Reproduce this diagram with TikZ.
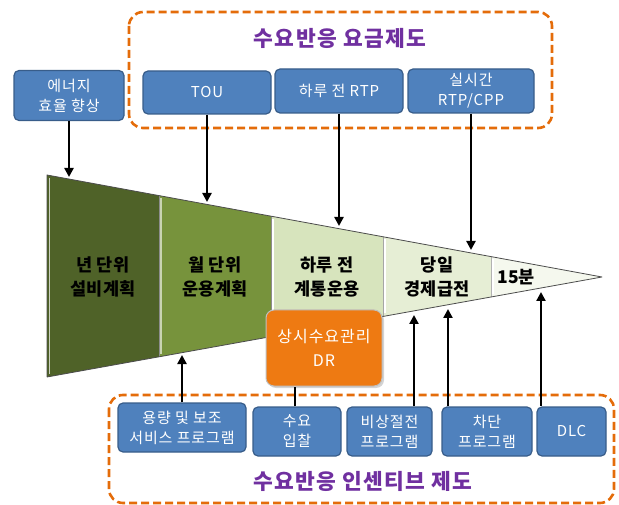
\documentclass[tikz,border=0pt]{standalone}
\usepackage{fontspec}
\setmainfont{Noto Sans CJK KR}
\newfontfamily\spacedfont{Noto Sans CJK KR}[LetterSpace=6]
\usetikzlibrary{arrows.meta,shadows}
\definecolor{boxblue}{HTML}{4F81BD}
\definecolor{boxborder}{HTML}{385D8A}
\definecolor{dashorange}{HTML}{E46C0A}
\definecolor{titlepurple}{HTML}{7030A0}
\definecolor{drorange}{HTML}{EE7A12}
\definecolor{sone}{HTML}{4F6228}
\definecolor{stwo}{HTML}{77933C}
\definecolor{sthree}{HTML}{D7E4BD}
\definecolor{sfour}{HTML}{E6EED5}
\definecolor{sfive}{HTML}{F5F8EE}
\begin{document}
\begin{tikzpicture}[x=1pt,y=-1pt,
  bluebox/.style={draw=boxborder, line width=1.2pt, fill=boxblue, rounded corners=5pt,
    text=white, align=center, inner sep=0pt, font=\spacedfont\fontsize{15}{20}\selectfont},
  stagetext/.style={align=center, font=\fontsize{17.5}{24}\selectfont\bfseries, text=black},
  section/.style={draw=black!70, line width=0.8pt, line join=round},
  arr/.style={line width=2.4pt, -{Triangle[length=9pt,width=9pt]}},
  plainline/.style={line width=2.4pt},
  grouptitle/.style={font=\spacedfont\fontsize{21.5}{24}\selectfont\bfseries, text=titlepurple},
  groupframe/.style={draw=dashorange, line width=2.6pt, dash pattern=on 8pt off 4pt, rounded corners=14pt}]
\useasboundingbox (0,0) rectangle (619,505);

% group frames
\draw[groupframe] (129,12) rectangle (552,128);
\draw[groupframe] (109,395) rectangle (614,503);
\node[grouptitle] (ttop) at (340,38) {수요반응 요금제도};
\node[grouptitle] (tbot) at (363,481) {수요반응 인센티브 제도};

% funnel sections
\fill[sone] (47,175) -- (159,195.6) -- (159,356.8) -- (47,377) -- cycle;
\fill[stwo] (159,195.6) -- (271,216.2) -- (271,336.6) -- (159,356.8) -- cycle;
\fill[sthree] (271,216.2) -- (383,236.7) -- (383,316.5) -- (271,336.6) -- cycle;
\fill[sfour] (383,236.7) -- (491,256.6) -- (491,297) -- (383,316.5) -- cycle;
\fill[sfive] (491,256.6) -- (602,277) -- (491,297) -- cycle;
% bevel highlights
\draw[white!70!sone, line width=1pt] (49,178) -- (49,374);
\draw[white!60!stwo, line width=1.2pt] (161,198.5) -- (161,354);
\draw[white, line width=1.2pt] (273,219) -- (273,334);
\draw[white, line width=1.2pt] (385,239.5) -- (385,313.5);
\draw[white, line width=1.2pt] (493,259.5) -- (493,294.5);
\draw[black!45, line width=0.8pt] (159,195.6) -- (159,356.8);
\draw[black!45, line width=0.8pt] (271,216.2) -- (271,336.6);
\draw[black!35, line width=0.8pt] (383,236.7) -- (383,316.5);
\draw[black!30, line width=0.8pt] (491,256.6) -- (491,297);
\draw[section] (47,377) -- (47,175) -- (602,277) -- (47,377);

\node[stagetext] (s1) at (103,277) {년 단위\\설비계획};
\node[stagetext] (s2) at (215,277) {월 단위\\운용계획};
\node[stagetext] (s3) at (327,277) {하루 전\\계통운용};
\node[stagetext] (s4) at (437,277) {당일\\경제급전};
\node[stagetext, anchor=west] (s5) at (494,277) {15분};

% top boxes
\node[bluebox, minimum width=110pt, minimum height=50pt] (eff) at (69,95.5) {에너지\\효율 향상};
\node[bluebox, minimum width=128pt, minimum height=43pt] (tou) at (207,92.5) {TOU};
\node[bluebox, minimum width=128pt, minimum height=44pt] (rtp) at (339,91) {하루 전 RTP};
\node[bluebox, minimum width=126pt, minimum height=44pt] (cpp) at (471,91) {실시간\\RTP/CPP};

% DR box
\node[draw=black!25, line width=1pt, fill=drorange, rounded corners=8pt, drop shadow={opacity=0.35, shadow xshift=2pt, shadow yshift=-2pt},
  minimum width=116pt, minimum height=76pt, inner sep=0pt, align=center, text=white,
  font=\spacedfont\fontsize{16}{24}\selectfont] (dr) at (324,348) {상시수요관리\\DR};

% bottom boxes
\node[bluebox, minimum width=128pt, minimum height=49pt] (cap) at (182,427.5) {용량 및 보조\\서비스 프로그램};
\node[bluebox, minimum width=88pt, minimum height=49pt] (bid) at (297,431.5) {수요\\입찰};
\node[bluebox, minimum width=85pt, minimum height=49pt] (emg) at (389.5,431.5) {비상절전\\프로그램};
\node[bluebox, minimum width=90pt, minimum height=49pt] (cut) at (487,431.5) {차단\\프로그램};
\node[bluebox, minimum width=69pt, minimum height=49pt] (dlc) at (571.5,431.5) {DLC};

% arrow end points on the funnel
\coordinate (a1) at (69,177);
\coordinate (a2) at (207,202);
\coordinate (a3) at (339,226);
\coordinate (a4) at (471,250);
\coordinate (b1) at (182,355);
\coordinate (b3) at (414,315);
\coordinate (b4) at (448,309);
\coordinate (b5) at (541,292);

\draw[arr] (eff.south) -- (a1);
\draw[arr] (tou.south) -- (a2);
\draw[arr] (rtp.south) -- (a3);
\draw[arr] (cpp.south) -- (a4);
\draw[arr] (cap.north) -- (b1);
\draw[plainline] (bid.north -| 295,0) -- (dr.south -| 295,0);
\draw[arr] (b3 |- emg.north) -- (b3);
\draw[arr] (b4 |- cut.north) -- (b4);
\draw[arr] (b5 |- dlc.north) -- (b5);
\end{tikzpicture}
\end{document}
